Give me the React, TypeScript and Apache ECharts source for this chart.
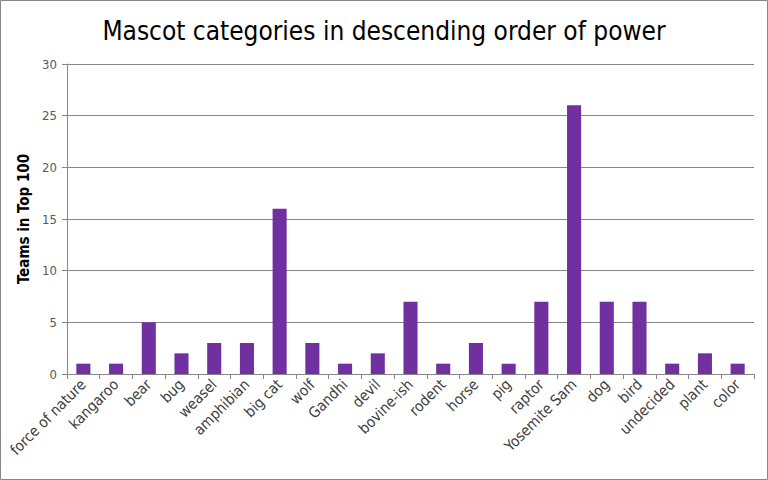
import React, { useEffect, useRef } from "react";
import * as echarts from "echarts";

const categories = [
  "force of nature", "kangaroo", "bear", "bug", "weasel", "amphibian", "big cat",
  "wolf", "Gandhi", "devil", "bovine-ish", "rodent", "horse", "pig", "raptor",
  "Yosemite Sam", "dog", "bird", "undecided", "plant", "color",
];
const teams = [1, 1, 5, 2, 3, 3, 16, 3, 1, 2, 7, 1, 3, 1, 7, 26, 7, 7, 1, 2, 1];

const FONT = "'Liberation Sans Narrow', 'DejaVu Sans Condensed', 'Roboto Condensed', sans-serif";

export default function App() {
  const ref = useRef<HTMLDivElement>(null);
  useEffect(() => {
    const chart = echarts.init(ref.current!, null, { renderer: "svg" });
    chart.setOption({
      animation: false,
      backgroundColor: "#fff",
      title: {
        text: "Mascot categories in descending order of power",
        left: "center",
        top: 13,
        textStyle: { fontFamily: FONT, fontSize: 26, fontWeight: "normal", color: "#000" },
      },
      grid: { left: 67, right: 14, top: 64, bottom: 106 },
      xAxis: {
        type: "category",
        data: categories,
        axisLine: { lineStyle: { color: "#868686" } },
        axisTick: { show: true, alignWithLabel: false, length: 5, lineStyle: { color: "#868686" } },
        axisLabel: {
          rotate: 45,
          interval: 0,
          fontFamily: FONT,
          fontSize: 15,
          color: "#404040",
          margin: 8,
        },
      },
      yAxis: {
        type: "value",
        min: 0,
        max: 30,
        interval: 5,
        name: "Teams in Top 100",
        nameLocation: "middle",
        nameGap: 33,
        nameTextStyle: { fontFamily: FONT, fontSize: 15, fontWeight: "bold", color: "#000" },
        axisLine: { show: true, lineStyle: { color: "#868686" } },
        axisTick: { show: true, length: 5, lineStyle: { color: "#868686" } },
        axisLabel: { fontFamily: FONT, fontSize: 13, color: "#595959", margin: 10 },
        splitLine: { lineStyle: { color: "#868686" } },
      },
      series: [
        {
          type: "bar",
          data: teams,
          barWidth: "43%",
          itemStyle: { color: "#7030A0" },
        },
      ],
      graphic: [
        {
          type: "rect",
          shape: { x: 0.5, y: 0.5, width: 767, height: 479 },
          style: { fill: "none", stroke: "#868686", lineWidth: 1 },
          silent: true,
        },
      ],
    });
    return () => chart.dispose();
  }, []);
  return <div ref={ref} style={{ width: 768, height: 480, position: "fixed", left: 0, top: 0 }} />;
}
